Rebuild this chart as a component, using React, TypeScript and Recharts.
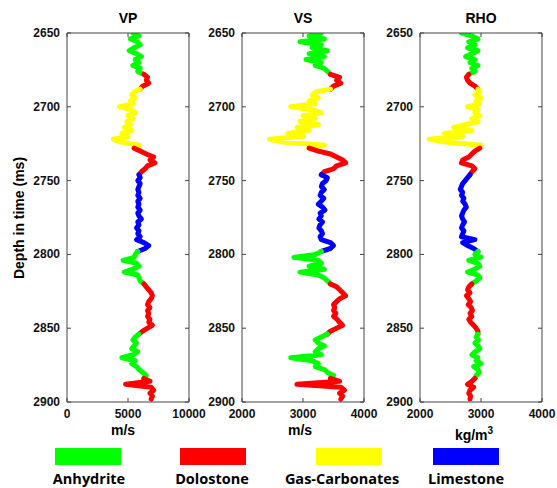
import React from 'react';
import { ComposedChart, Line, XAxis, YAxis } from 'recharts';

// two-way time, ms (one sample every 2 ms)
const depth = [
  2650, 2652, 2654, 2656, 2658, 2660, 2662, 2664, 2666, 2668, 2670, 2672, 2674, 2676,
  2678, 2680, 2682, 2684, 2686,
  2688, 2690, 2692, 2694, 2696, 2698, 2700, 2702, 2704, 2706, 2708, 2710, 2712, 2714, 2716, 2718, 2720, 2722, 2724, 2726,
  2728, 2730, 2732, 2734, 2736, 2738, 2740, 2742, 2744,
  2746, 2748, 2750, 2752, 2754, 2756, 2758, 2760, 2762, 2764, 2766, 2768, 2770, 2772, 2774, 2776, 2778, 2780, 2782, 2784, 2786, 2788, 2790, 2792, 2794, 2796,
  2798, 2800, 2802, 2804, 2806, 2808, 2810, 2812, 2814, 2816, 2818,
  2820, 2822, 2824, 2826, 2828, 2830, 2832, 2834, 2836, 2838, 2840, 2842, 2844, 2846, 2848, 2850, 2852,
  2854, 2856, 2858, 2860, 2862, 2864, 2866, 2868, 2870, 2872, 2874, 2876, 2878, 2880, 2882,
  2884, 2886, 2888, 2890, 2892, 2894, 2896, 2898,
];

const vp = [
  5400, 5900, 5200, 5800, 6000, 5500, 5100, 5700, 6100, 5600, 5900, 5400, 6000, 5800,
  6300, 6600, 6500, 6700, 6200,
  6000, 5500, 5300, 5600, 5200, 5400, 4300, 5300, 5600, 5000, 5400, 4900, 5200, 4700, 5300, 4500, 5000, 3800, 4500, 5900,
  5500, 6000, 6500, 7100, 6800, 7200, 6600, 6400, 6100,
  5900, 6000, 5800, 6000, 5900, 5800, 5900, 5800, 6000, 5800, 5900, 5800, 6000, 5800, 5900, 6100, 5800, 5900, 5700, 5900, 5800, 6000, 5700, 6300, 6700, 6400,
  5800, 5600, 5500, 4600, 5700, 5900, 5400, 4700, 5800, 5900, 6000,
  6300, 6500, 6700, 6900, 7000, 6900, 6700, 6600, 6800, 6600, 6700, 6600, 6800, 6700, 7000, 6600, 6200,
  5900, 5600, 5400, 5700, 5500, 5300, 5800, 5400, 4500, 5600, 5300, 5700, 5900, 6200, 6500,
  6300, 6800, 4800, 6900, 7100, 6800, 7000, 6900,
];

const vs = [
  3300, 3100, 3350, 2950, 3300, 3150, 3400, 3100, 3350, 3050, 3300, 3200, 3350, 3400,
  3450, 3600, 3550, 3620, 3500,
  3450, 3200, 3150, 3250, 3100, 3200, 2800, 3150, 3300, 3000, 3200, 2950, 3250, 2900, 3100, 2750, 3000, 2450, 2700, 3350,
  3100, 3250, 3450, 3550, 3650, 3700, 3550, 3500, 3350,
  3300, 3400, 3380, 3320, 3300, 3350, 3300, 3280, 3340, 3300, 3250, 3320, 3360, 3280, 3300, 3260, 3320, 3280, 3260, 3300, 3320, 3280, 3300, 3450, 3500, 3450,
  3300, 3200, 2850, 3250, 3300, 3100, 3350, 2950, 3250, 3350, 3400,
  3450, 3550, 3600, 3650, 3700, 3600, 3550, 3500, 3520, 3500, 3540, 3500, 3560, 3600, 3650, 3550, 3450,
  3400, 3300, 3200, 3250, 3350, 3250, 3200, 3300, 2800, 3150, 3250, 3200, 3350, 3400, 3500,
  3450, 3600, 2900, 3620, 3680, 3600, 3650, 3620,
];

const rho = [
  2680, 2850, 2950, 2800, 2900, 2780, 2950, 2850, 2750, 2900, 2820, 2950, 2850, 2900,
  2800, 2760, 2780, 2820, 2900,
  2950, 2980, 2900, 3000, 2920, 2980, 2780, 2950, 2900, 2980, 2850, 2950, 2750, 2550, 2850, 2400, 2700, 2150, 2450, 3000,
  2980, 2900, 2850, 2800, 2700, 2680, 2850, 2900, 2850,
  2820, 2780, 2740, 2700, 2680, 2660, 2700, 2680, 2720, 2700, 2740, 2760, 2720, 2700, 2680, 2700, 2730, 2700, 2680, 2720, 2700, 2680, 2900, 2700, 2780, 2880,
  2950, 2900, 3000, 2800, 2950, 2980, 2900, 2780, 2950, 2980, 2920,
  2850, 2800, 2780, 2820, 2760, 2800, 2830, 2790, 2840, 2860, 2820, 2850, 2800, 2830, 2880, 2920, 2950,
  2950, 2920, 2960, 2900, 2950, 2980, 2900, 2850, 2950, 2920, 3000, 2880, 2950, 2970, 2920,
  2900, 2850, 2780, 2880, 2820, 2800, 2830, 2820,
];

const facies = [
  { name: 'Anhydrite', color: '#00ff00' },
  { name: 'Dolostone', color: '#ff0000' },
  { name: 'Gas-Carbonates', color: '#ffff00' },
  { name: 'Limestone', color: '#0000ff' },
];

const intervals = [
  { facies: 'Anhydrite', top: 2650, base: 2676 },
  { facies: 'Dolostone', top: 2678, base: 2686 },
  { facies: 'Gas-Carbonates', top: 2688, base: 2726 },
  { facies: 'Dolostone', top: 2728, base: 2744 },
  { facies: 'Limestone', top: 2746, base: 2796 },
  { facies: 'Anhydrite', top: 2798, base: 2818 },
  { facies: 'Dolostone', top: 2820, base: 2852 },
  { facies: 'Anhydrite', top: 2854, base: 2882 },
  { facies: 'Dolostone', top: 2884, base: 2898 },
];

const depthTicks = [2650, 2700, 2750, 2800, 2850, 2900];

const panels = [
  { key: 'vp', title: 'VP', domain: [0, 10000], ticks: [0, 5000, 10000], left: 67 },
  { key: 'vs', title: 'VS', domain: [2000, 4000], ticks: [2000, 3000, 4000], left: 242 },
  { key: 'rho', title: 'RHO', domain: [2000, 4000], ticks: [2000, 3000, 4000], left: 420 },
];

// legend placement (layout only)
const legendPos = [
  { rect: 55, label: 89 },
  { rect: 180, label: 212 },
  { rect: 316, label: 342 },
  { rect: 433, label: 466 },
];

const AXIS = '#444';
const FONT = '"Liberation Sans", Arial, sans-serif';
const colorOf = (name: string) => facies.find((f) => f.name === name)?.color ?? '#000';

// one series per interval; each also takes the first sample of the next interval so they join up
const rows = depth.map((d, i) => {
  const row: Record<string, number | null> = { depth: d, vp: vp[i], vs: vs[i], rho: rho[i] };
  intervals.forEach((iv, j) => {
    const next = intervals[j + 1];
    const on = (d >= iv.top && d <= iv.base) || (next != null && d === next.top);
    row[`vp_${j}`] = on ? vp[i] : null;
    row[`vs_${j}`] = on ? vs[i] : null;
    row[`rho_${j}`] = on ? rho[i] : null;
  });
  return row;
});

const LeftTick = ({ x, y, payload }: any) => (
  <g>
    <text x={x - 7} y={y} dy={4} textAnchor="end" fontSize={12} fontWeight="bold" fontFamily={FONT} fill="#111">
      {payload.value}
    </text>
    <line x1={x} x2={x + 4} y1={y} y2={y} stroke={AXIS} />
  </g>
);

const RightTick = ({ x, y }: any) => <line x1={x} x2={x - 4} y1={y} y2={y} stroke={AXIS} />;

const BottomTick = ({ x, y, payload }: any) => (
  <g>
    <text x={x} y={y + 16} textAnchor="middle" fontSize={12} fontWeight="bold" fontFamily={FONT} fill="#111">
      {payload.value}
    </text>
    <line x1={x} x2={x} y1={y} y2={y - 4} stroke={AXIS} />
  </g>
);

const TopTick = ({ x, y }: any) => <line x1={x} x2={x} y1={y} y2={y + 4} stroke={AXIS} />;

function LogPanel({ panel }: { panel: (typeof panels)[number] }) {
  return (
    <div style={{ position: 'absolute', left: panel.left - 60, top: 0 }}>
      <ComposedChart
        width={202}
        height={440}
        layout="vertical"
        data={rows}
        margin={{ top: 32, right: 0, left: 0, bottom: 8 }}
      >
        <XAxis
          type="number"
          domain={panel.domain}
          ticks={panel.ticks}
          allowDataOverflow
          height={30}
          tickSize={0}
          tickMargin={0}
          tickLine={false}
          axisLine={{ stroke: AXIS }}
          tick={<BottomTick />}
        />
        <XAxis
          xAxisId="top"
          orientation="top"
          type="number"
          domain={panel.domain}
          ticks={panel.ticks}
          allowDataOverflow
          height={1}
          tickSize={0}
          tickMargin={0}
          tickLine={false}
          axisLine={{ stroke: AXIS }}
          tick={<TopTick />}
        />
        <YAxis
          type="number"
          dataKey="depth"
          domain={[2650, 2900]}
          ticks={depthTicks}
          allowDataOverflow
          width={60}
          tickSize={0}
          tickMargin={0}
          tickLine={false}
          axisLine={{ stroke: AXIS }}
          tick={<LeftTick />}
        />
        <YAxis
          yAxisId="right"
          orientation="right"
          type="number"
          dataKey="depth"
          domain={[2650, 2900]}
          ticks={depthTicks}
          allowDataOverflow
          width={20}
          tickSize={0}
          tickMargin={0}
          tickLine={false}
          axisLine={{ stroke: AXIS }}
          tick={<RightTick />}
        />
        <Line
          dataKey={panel.key}
          stroke="#0000ff"
          strokeWidth={1}
          dot={false}
          isAnimationActive={false}
        />
        {intervals.map((iv, j) => (
          <Line
            key={j}
            dataKey={`${panel.key}_${j}`}
            stroke={colorOf(iv.facies)}
            strokeWidth={5}
            strokeLinejoin="round"
            strokeLinecap="round"
            dot={false}
            isAnimationActive={false}
          />
        ))}
      </ComposedChart>
    </div>
  );
}

export default function App() {
  return (
    <div style={{ position: 'absolute', left: 0, top: 0, width: 557, height: 488, background: '#fff' }}>
      <svg width={557} height={488} style={{ position: 'absolute', left: 0, top: 0 }}>
        {panels.map((p) => (
          <text key={p.title} x={p.left + 61} y={23} textAnchor="middle" fontSize={14} fontWeight="bold" fontFamily={FONT}>
            {p.title}
          </text>
        ))}
        <text
          x={0}
          y={0}
          transform="translate(24,218) rotate(-90)"
          textAnchor="middle"
          fontSize={14}
          fontWeight="bold"
          fontFamily={FONT}
        >
          Depth in time (ms)
        </text>
        <text x={123} y={435} textAnchor="middle" fontSize={14} fontWeight="bold" fontFamily={FONT}>m/s</text>
        <text x={300} y={435} textAnchor="middle" fontSize={14} fontWeight="bold" fontFamily={FONT}>m/s</text>
        <text x={474} y={440} textAnchor="middle" fontSize={14} fontWeight="bold" fontFamily={FONT}>
          kg/m<tspan dy={-6} fontSize={10}>3</tspan>
        </text>
        {facies.map((f, i) => (
          <g key={f.name}>
            <rect x={legendPos[i].rect} y={448} width={66} height={17} fill={f.color} />
            <text
              x={legendPos[i].label}
              y={484}
              textAnchor="middle"
              fontSize={14.5}
              fontWeight="bold"
              fontFamily='"Open Sans", sans-serif'
            >
              {f.name}
            </text>
          </g>
        ))}
      </svg>
      {panels.map((p) => (
        <LogPanel key={p.key} panel={p} />
      ))}
    </div>
  );
}
